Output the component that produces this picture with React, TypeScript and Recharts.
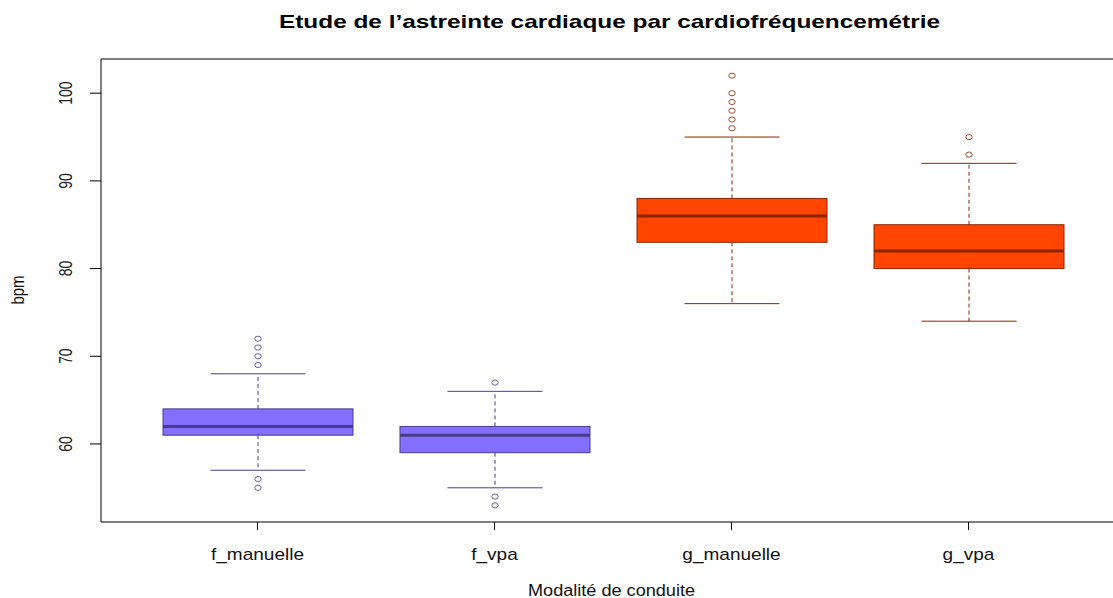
import { Bar, ComposedChart, ReferenceLine, XAxis, YAxis } from "recharts";

const categories = ["f_manuelle", "f_vpa", "g_manuelle", "g_vpa"];
const whiskerLow = [57, 55, 76, 74];
const q1 = [61, 59, 83, 80];
const median = [62, 61, 86, 82];
const q3 = [64, 62, 88, 85];
const whiskerHigh = [68, 66, 95, 92];
const outliers = [
  [72, 71, 70, 69, 56, 55],
  [67, 54, 53],
  [102, 100, 99, 98, 97, 96],
  [95, 93],
];
const yTicks = [60, 70, 80, 90, 100];
const yDomain = [51.1, 103.9];

const fills = ["#836FFF", "#836FFF", "#FF4500", "#FF4500"];
const strokes = ["#483D8B", "#483D8B", "#8B2500", "#8B2500"];

const data = categories.map((name, i) => ({
  name,
  whiskerLow: whiskerLow[i],
  q1: q1[i],
  median: median[i],
  q3: q3[i],
  whiskerHigh: whiskerHigh[i],
  outliers: outliers[i],
  fill: fills[i],
  stroke: strokes[i],
}));

const font = "'Liberation Sans', Arial, sans-serif";

function BoxShape(props: any) {
  const { x, y, width, height, payload } = props;
  const top = Math.min(y, y + height);
  const h = Math.abs(height);
  const hi = payload.whiskerHigh;
  const lo = payload.whiskerLow;
  // map values through the bar's own pixel range (whisker low..high)
  const py = (v: number) => top + ((hi - v) / (hi - lo)) * h;
  const cx = x + width / 2;
  const cap = width / 4;
  const c = payload.stroke;
  return (
    <g>
      <line x1={cx} x2={cx} y1={py(payload.q3)} y2={py(hi)} stroke={c} strokeDasharray="4 3" />
      <line x1={cx} x2={cx} y1={py(payload.q1)} y2={py(lo)} stroke={c} strokeDasharray="4 3" />
      <line x1={cx - cap} x2={cx + cap} y1={py(hi)} y2={py(hi)} stroke={c} />
      <line x1={cx - cap} x2={cx + cap} y1={py(lo)} y2={py(lo)} stroke={c} />
      <rect
        x={x}
        y={py(payload.q3)}
        width={width}
        height={py(payload.q1) - py(payload.q3)}
        fill={payload.fill}
        stroke={c}
      />
      <line x1={x} x2={x + width} y1={py(payload.median)} y2={py(payload.median)} stroke={c} strokeWidth={3} />
      {payload.outliers.map((v: number, k: number) => (
        <ellipse key={k} cx={cx} cy={py(v)} rx={3.2} ry={2.6} fill="none" stroke={c} strokeOpacity={0.8} />
      ))}
    </g>
  );
}

function XTick(props: any) {
  const { x, payload } = props;
  return (
    <g transform={`translate(${x},560) scale(1.12,1)`}>
      <text textAnchor="middle" fontFamily={font} fontSize={17} fill="#111">
        {payload.value}
      </text>
    </g>
  );
}

function YTick(props: any) {
  const { y, payload } = props;
  return (
    <g transform={`translate(65,${y}) scale(1.3,1) rotate(-90)`}>
      <text textAnchor="middle" dy="0.36em" fontFamily={font} fontSize={14} fill="#222">
        {payload.value}
      </text>
    </g>
  );
}

export default function App() {
  return (
    <div
      style={{
        position: "absolute",
        left: 0,
        top: 0,
        width: 1113,
        height: 598,
        overflow: "hidden",
        background: "#fff",
      }}
    >
      <ComposedChart
        width={1125}
        height={598}
        data={data}
        margin={{ top: 59, right: 0, bottom: 0, left: 0 }}
      >
        <XAxis
          dataKey="name"
          height={76}
          interval={0}
          padding={{ left: 38, right: 38 }}
          axisLine={{ stroke: "#000" }}
          tickLine={{ stroke: "#000" }}
          tickSize={8}
          tick={<XTick />}
        />
        <YAxis
          type="number"
          width={101}
          domain={yDomain}
          ticks={yTicks}
          allowDataOverflow
          axisLine={{ stroke: "#000" }}
          tickLine={{ stroke: "#000" }}
          tickSize={11}
          tick={<YTick />}
        />
        <ReferenceLine y={yDomain[1]} stroke="#000" />
        <Bar
          dataKey={(d: any) => [d.whiskerLow, d.whiskerHigh]}
          barSize={190}
          shape={<BoxShape />}
          isAnimationActive={false}
        />
      </ComposedChart>
      <svg
        width={1113}
        height={598}
        style={{ position: "absolute", left: 0, top: 0, pointerEvents: "none" }}
      >
        <text
          x={609.5}
          y={28}
          textAnchor="middle"
          fontFamily={font}
          fontWeight="bold"
          fontSize={18.5}
          textLength={661}
          lengthAdjust="spacingAndGlyphs"
          fill="#000"
        >
          Etude de l’astreinte cardiaque par cardiofréquencemétrie
        </text>
        <text
          x={611.5}
          y={596}
          textAnchor="middle"
          fontFamily={font}
          fontSize={16}
          textLength={167}
          lengthAdjust="spacingAndGlyphs"
          fill="#111"
        >
          Modalité de conduite
        </text>
        <g transform="translate(18,290) scale(1.2,1) rotate(-90)">
          <text textAnchor="middle" dy="0.36em" fontFamily={font} fontSize={15} fill="#111">
            bpm
          </text>
        </g>
      </svg>
    </div>
  );
}
